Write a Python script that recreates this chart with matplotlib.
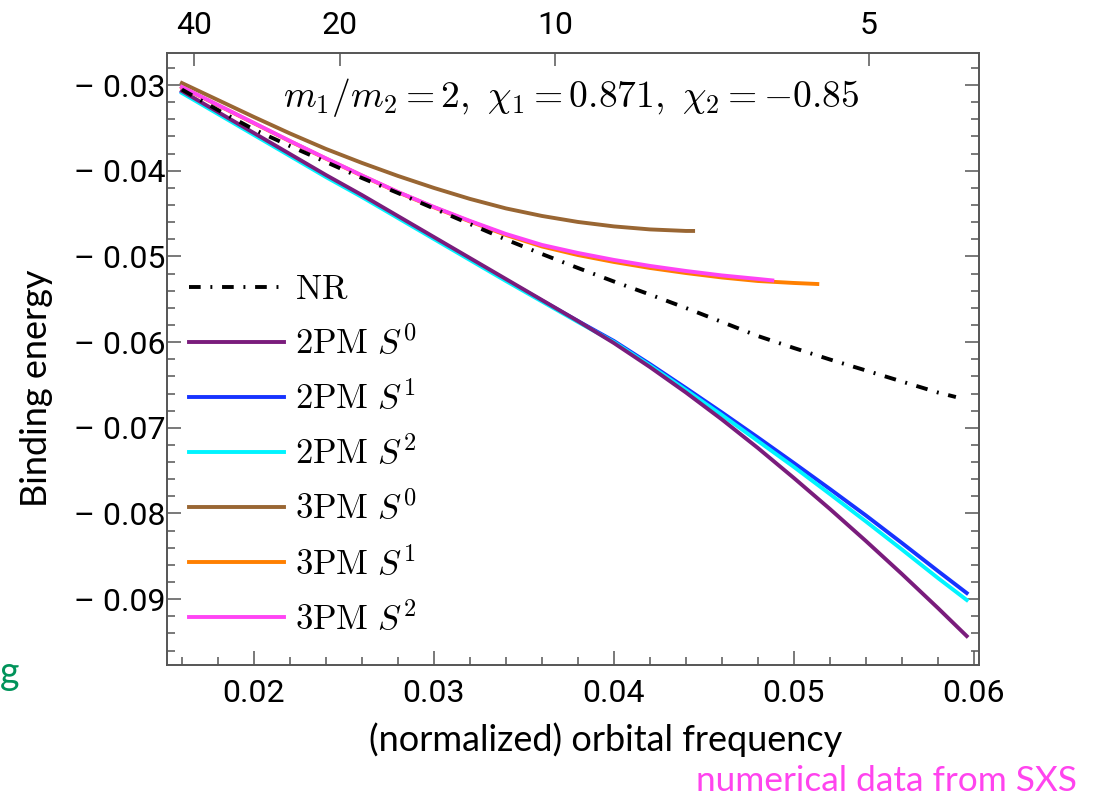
import numpy as np
import matplotlib.pyplot as plt
from matplotlib.ticker import MultipleLocator, FuncFormatter

plt.rcParams['mathtext.fontset'] = 'cm'
plt.rcParams['font.family'] = 'Roboto'

# 2PM curves (orbital frequency vs binding energy)
f_2pm = [0.016, 0.018, 0.020, 0.022, 0.024, 0.026, 0.028, 0.030, 0.032, 0.034, 0.036, 0.038,
         0.040, 0.042, 0.044, 0.046, 0.048, 0.050, 0.052, 0.054, 0.056, 0.058, 0.0596]
E_2pm_s0 = [-0.03070, -0.03315, -0.03560, -0.03805, -0.04050, -0.04284, -0.04529, -0.04774,
            -0.05019, -0.05264, -0.05509, -0.05754, -0.06011, -0.06291, -0.06588, -0.06903,
            -0.07236, -0.07586, -0.07947, -0.08321, -0.08706, -0.09103, -0.09430]
E_2pm_s1 = [-0.03082, -0.03327, -0.03572, -0.03817, -0.04062, -0.04295, -0.04540, -0.04785,
            -0.05030, -0.05275, -0.05515, -0.05754, -0.05987, -0.06256, -0.06536, -0.06821,
            -0.07113, -0.07411, -0.07714, -0.08023, -0.08344, -0.08671, -0.08928]
E_2pm_s2 = [-0.03093, -0.03338, -0.03583, -0.03828, -0.04074, -0.04307, -0.04552, -0.04797,
            -0.05042, -0.05287, -0.05526, -0.05765, -0.05999, -0.06273, -0.06559, -0.06851,
            -0.07154, -0.07457, -0.07773, -0.08093, -0.08420, -0.08753, -0.09009]

# 3PM curves
f_3pm_s0 = [0.016, 0.018, 0.020, 0.022, 0.024, 0.026, 0.028, 0.030, 0.032, 0.034, 0.036, 0.038,
            0.040, 0.042, 0.044, 0.0444]
E_3pm_s0 = [-0.02977, -0.03175, -0.03373, -0.03565, -0.03746, -0.03909, -0.04061, -0.04201,
            -0.04329, -0.04440, -0.04528, -0.04598, -0.04650, -0.04685, -0.04703, -0.04703]

f_3pm_s1 = [0.016, 0.018, 0.020, 0.022, 0.024, 0.026, 0.028, 0.030, 0.032, 0.034, 0.036, 0.038,
            0.040, 0.042, 0.044, 0.046, 0.048, 0.050, 0.0513]
E_3pm_s1 = [-0.03026, -0.03236, -0.03446, -0.03656, -0.03859, -0.04058, -0.04251, -0.04427,
            -0.04592, -0.04750, -0.04884, -0.04984, -0.05065, -0.05135, -0.05194, -0.05246,
            -0.05287, -0.05310, -0.05322]

f_3pm_s2 = [0.016, 0.018, 0.020, 0.022, 0.024, 0.026, 0.028, 0.030, 0.032, 0.034, 0.036, 0.038,
            0.040, 0.042, 0.044, 0.046, 0.048, 0.0488]
E_3pm_s2 = [-0.03023, -0.03233, -0.03443, -0.03653, -0.03856, -0.04055, -0.04248, -0.04423,
            -0.04586, -0.04738, -0.04866, -0.04960, -0.05041, -0.05111, -0.05170, -0.05222,
            -0.05263, -0.05280]

# numerical relativity (SXS)
f_nr = [0.016, 0.018, 0.020, 0.022, 0.024, 0.026, 0.028, 0.030, 0.032, 0.034, 0.036, 0.038,
        0.040, 0.042, 0.044, 0.046, 0.048, 0.050, 0.052, 0.054, 0.056, 0.058, 0.0590]
E_nr = [-0.03053, -0.03292, -0.03519, -0.03712, -0.03898, -0.04085, -0.04260, -0.04441,
        -0.04622, -0.04803, -0.04972, -0.05135, -0.05293, -0.05445, -0.05602, -0.05765,
        -0.05929, -0.06069, -0.06203, -0.06331, -0.06460, -0.06588, -0.06641]

# top axis labels and where they sit in frequency
top_labels = ['40', '20', '10', '5']
top_freq = [0.01667, 0.02478, 0.03673, 0.05417]

fig = plt.figure(figsize=(10.93, 7.97), dpi=100)
ax = fig.add_axes([167/1093, 132/797, 812/1093, 612/797])

lw = 2.8
ax.plot(f_nr, E_nr, color='black', lw=lw, dashes=(3, 2.5, 0.5, 2.5), label=r'$\mathrm{NR}$', zorder=3)
ax.plot(f_2pm, E_2pm_s1, color='#1733ff', lw=lw, label=r'$\mathrm{2PM}\ S^1$')
ax.plot(f_2pm, E_2pm_s2, color='#00f4ff', lw=lw, label=r'$\mathrm{2PM}\ S^2$')
ax.plot(f_2pm, E_2pm_s0, color='#7a1c7c', lw=lw, label=r'$\mathrm{2PM}\ S^0$')
ax.plot(f_3pm_s0, E_3pm_s0, color='#996633', lw=lw, label=r'$\mathrm{3PM}\ S^0$')
ax.plot(f_3pm_s1, E_3pm_s1, color='#ff7f00', lw=lw, label=r'$\mathrm{3PM}\ S^1$')
ax.plot(f_3pm_s2, E_3pm_s2, color='#ff44f4', lw=lw, label=r'$\mathrm{3PM}\ S^2$')

ax.set_xlim(0.015172, 0.060283)
ax.set_ylim(-0.097678, -0.026266)

spine_c = '#555555'
for s in ax.spines.values():
    s.set_color(spine_c)
    s.set_linewidth(1.4)

ax.xaxis.set_major_locator(MultipleLocator(0.01))
ax.xaxis.set_minor_locator(MultipleLocator(0.002))
ax.yaxis.set_major_locator(MultipleLocator(0.01))
ax.yaxis.set_minor_locator(MultipleLocator(0.002))
ax.yaxis.set_major_formatter(FuncFormatter(lambda v, p: ('\u2013 ' if v < 0 else '') + f'{abs(v):.2f}'))
ax.xaxis.set_major_formatter(FuncFormatter(lambda v, p: f'{v:.2f}'))
ax.tick_params(which='both', direction='in', right=True, top=False, color=spine_c, width=1.1)
ax.tick_params(which='major', length=10, labelsize=23)
ax.tick_params(which='minor', length=6)
ax.tick_params(axis='y', pad=1)
ax.tick_params(axis='x', pad=10)

ax2 = ax.twiny()
ax2.set_xlim(ax.get_xlim())
ax2.set_xticks(top_freq, top_labels)
ax2.tick_params(direction='in', length=9, color=spine_c, width=1.1, labelsize=23, pad=9)
for s in ax2.spines.values():
    s.set_visible(False)

ax.set_xlabel('(normalized) orbital frequency', family='Lato', fontsize=26, va='top')
ax.xaxis.set_label_coords(0.54, -0.094)
ax.set_ylabel('Binding energy', family='Lato', fontsize=26)
ax.yaxis.set_label_coords(-0.14, 0.453)

ax.text(0.143, 0.928, r'$m_1/m_2=2,\ \chi_1=0.871,\ \chi_2=-0.85$', transform=ax.transAxes,
        fontsize=27, va='center', ha='left')

h, l = ax.get_legend_handles_labels()
order = [0, 3, 1, 2, 4, 5, 6]
ax.legend([h[i] for i in order], [l[i] for i in order], loc='upper left',
          bbox_to_anchor=(0.0099, 0.663), frameon=False, fontsize=25,
          handlelength=2.75, handletextpad=0.3, labelspacing=0.56, borderaxespad=0)

fig.text(1077/1093, 16/797, 'numerical data from SXS', color='#ff44ee', family='Lato',
         fontsize=25.4, ha='right', va='center')
fig.text(0.0, 124/797, 'g', color='#00935a', family='Lato', fontsize=27, ha='left', va='center')

fig.savefig('out.png', dpi=100)
